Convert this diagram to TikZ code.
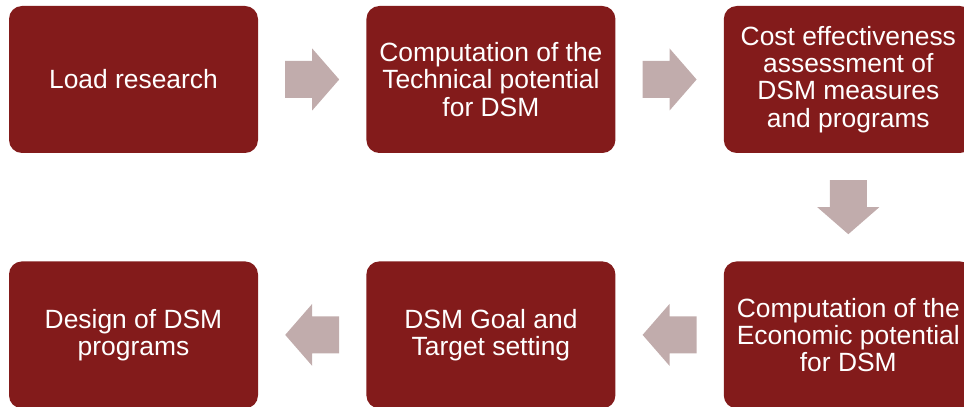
\documentclass[tikz,border=0pt]{standalone}
\usepackage{fontspec}
\setmainfont{Liberation Sans}
\usetikzlibrary{calc, positioning}
\definecolor{boxred}{RGB}{131,27,27}
\definecolor{arrowpink}{RGB}{193,172,172}
\tikzstyle{stage}=[rectangle, rounded corners=13pt, fill=boxred, text=white, align=center, minimum width=249pt, minimum height=147pt, inner sep=0pt, font=\fontsize{26.4}{27.2}\selectfont]
\tikzset{flow/.pic={\fill[arrowpink] (-27,-18.5) -- (0,-18.5) -- (0,-31) -- (27,0) -- (0,31) -- (0,18.5) -- (-27,18.5) -- cycle;}}

\begin{document}
\begin{tikzpicture}[x=1pt, y=1pt]
      \useasboundingbox (0,0) rectangle (964,407);
      \node[stage] (load) at (133.5,327.5) {Load research};
      \node[stage] (tech) [right=108pt of load] {Computation of the\\Technical potential\\for DSM};
      \node[stage] (cost) [right=108pt of tech] {Cost effectiveness\\assessment of\\DSM measures\\and programs};
      \node[stage] (econ) [below=108pt of cost] {Computation of the\\Economic potential\\for DSM};
      \node[stage] (goal) [left=108pt of econ] {DSM Goal and\\Target setting};
      \node[stage] (design) [left=108pt of goal] {Design of DSM\\programs};
      \path ($(load.east)!0.5!(tech.west)$) pic {flow};
      \path ($(tech.east)!0.5!(cost.west)$) pic {flow};
      \path ($(cost.south)!0.5!(econ.north)$) pic[rotate=-90] {flow};
      \path ($(econ.west)!0.5!(goal.east)$) pic[rotate=180] {flow};
      \path ($(goal.west)!0.5!(design.east)$) pic[rotate=180] {flow};
  \end{tikzpicture}
\end{document}
